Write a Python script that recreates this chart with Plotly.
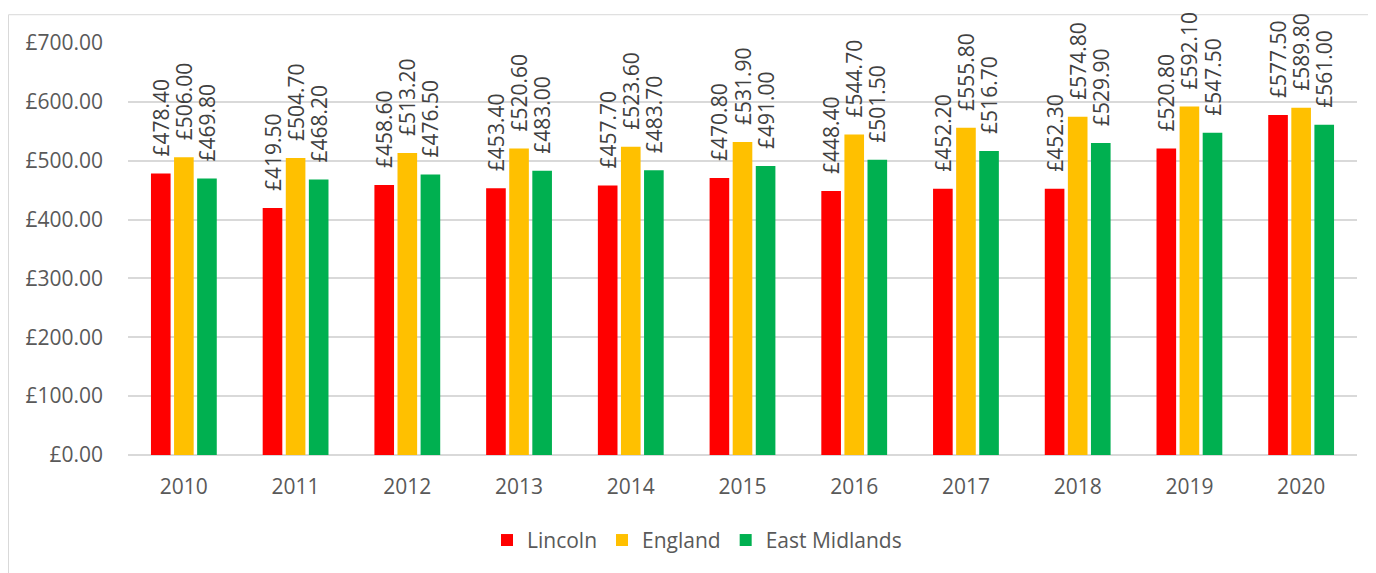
import plotly.graph_objects as go

years = ["2010", "2011", "2012", "2013", "2014", "2015", "2016", "2017", "2018", "2019", "2020"]
lincoln = [478.40, 419.50, 458.60, 453.40, 457.70, 470.80, 448.40, 452.20, 452.30, 520.80, 577.50]
england = [506.00, 504.70, 513.20, 520.60, 523.60, 531.90, 544.70, 555.80, 574.80, 592.10, 589.80]
east_midlands = [469.80, 468.20, 476.50, 483.00, 483.70, 491.00, 501.50, 516.70, 529.90, 547.50, 561.00]

series = [("Lincoln", lincoln, "#FF0000"), ("England", england, "#FFC000"), ("East Midlands", east_midlands, "#00B050")]

FONT = "Open Sans, Liberation Sans, sans-serif"
FS = 21

fig = go.Figure()
for name, vals, color in series:
    fig.add_trace(go.Bar(
        x=years, y=vals, name=name,
        marker=dict(color=color, line=dict(width=0)),
        texttemplate="\u2002\u2009£%{y:.2f}", textposition="outside", textangle=-90,
        constraintext="none",
        textfont=dict(family=FONT, size=FS, color="#404040"),
        cliponaxis=False,
    ))

# page has an 8px body margin; figure is drawn at offset (8, 8)
OFF = 8
W, H = 1376 - OFF, 573 - OFF
L, R, T, B = 128 - OFF, 1376 - 1357, 43 - OFF, 573 - 458
pw, ph = W - L - R, H - T - B

def px_x(px):
    return (px - OFF - L) / pw

def px_y(py):
    return (H - B - (py - OFF)) / ph

fig.update_layout(
    width=W, height=H,
    margin=dict(l=L, r=R, t=T, b=B),
    paper_bgcolor="white", plot_bgcolor="white",
    barmode="group", bargap=0.38, bargroupgap=0.15,
    font=dict(family=FONT, color="#595959", size=FS),
    showlegend=True,
    legend=dict(orientation="h", x=px_x(697), xanchor="center", y=px_y(544), yanchor="middle",
                font=dict(family=FONT, size=FS, color="#595959"), itemsizing="constant",
                traceorder="normal"),
    xaxis=dict(showgrid=False, showline=False, ticks="", ticklabelstandoff=17,
               tickfont=dict(size=FS, color="#595959")),
    yaxis=dict(range=[0, 700], dtick=100, tickprefix="£", tickformat=".2f",
               showgrid=True, gridcolor="#D9D9D9", gridwidth=1.5, zeroline=True,
               zerolinecolor="#D9D9D9", zerolinewidth=1.5, showline=False, ticks="",
               ticklabelstandoff=24, tickfont=dict(size=FS, color="#595959")),
    shapes=[dict(type="rect", xref="paper", yref="paper",
                 x0=px_x(8.5), x1=px_x(1390), y0=px_y(600), y1=px_y(14.5),
                 line=dict(color="#D9D9D9", width=1), fillcolor="rgba(0,0,0,0)", layer="below")],
)

fig.write_html("out.html")
